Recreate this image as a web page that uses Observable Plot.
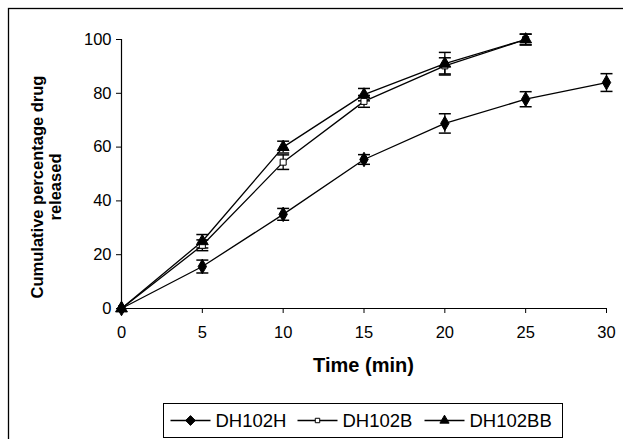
<!DOCTYPE html>
<html>
<head>
<meta charset="utf-8">
<script src="https://cdn.jsdelivr.net/npm/d3@7"></script>
<script src="https://cdn.jsdelivr.net/npm/@observablehq/plot@0.6"></script>
<style>
  html, body { margin: 0; padding: 0; background: #fff; }
  svg { font-family: "Liberation Sans", Arial, sans-serif; }
</style>
</head>
<body>
<div id="chart"></div>
<script>
// Dissolution time points (min)
const times = [0, 5, 10, 15, 20, 25, 30];

// Cumulative percentage drug released, mean and SD per formulation
const seriesNames = ["DH102H", "DH102B", "DH102BB"];
const dh102h = [0, 15.6, 35.0, 55.4, 68.8, 77.8, 84.0];
const dh102hSd = [0, 2.4, 2.2, 1.8, 3.6, 2.8, 3.3];
const dh102b = [0, 23.5, 54.4, 77.0, 90.2, 100.0];
const dh102bSd = [0, 2.0, 2.7, 2.2, 3.0, 2.0];
const dh102bb = [0, 25.0, 60.0, 79.5, 91.0, 100.0];
const dh102bbSd = [0, 2.5, 2.2, 2.3, 4.2, 2.0];

const xTicks = [0, 5, 10, 15, 20, 25, 30];
const yTicks = [0, 20, 40, 60, 80, 100];

const xTitle = "Time (min)";
const yTitle = ["Cumulative percentage drug", "released"];

const toRows = (name, vals, sds) =>
  vals.map((v, i) => ({series: name, t: times[i], v, sd: sds[i]}));

const rows = [
  ...toRows("DH102H", dh102h, dh102hSd),
  ...toRows("DH102B", dh102b, dh102bSd),
  ...toRows("DH102BB", dh102bb, dh102bbSd)
];

// horizontal cap for the error bars
const cap = {draw(ctx) { ctx.moveTo(-6, 0); ctx.lineTo(6, 0); }};

const style = {
  DH102H: {symbol: "diamond", fill: "black", r: 4.4},
  DH102B: {symbol: "square", fill: "white", r: 3.4},
  DH102BB: {symbol: "triangle", fill: "black", r: 4.4}
};

const plot = Plot.plot({
  width: 623,
  height: 439,
  marginLeft: 121,
  marginRight: 17,
  marginTop: 39,
  marginBottom: 131,
  x: {domain: [0, 30]},
  y: {domain: [0, 100]},
  marks: [
    Plot.axisY({ticks: yTicks, tickSize: 5, tickPadding: 5, label: null}),
    Plot.axisX({ticks: xTicks, tickSize: 5, tickPadding: 13, label: null}),
    Plot.ruleX([0], {stroke: "black", strokeWidth: 1.2}),
    Plot.ruleY([0], {stroke: "black", strokeWidth: 1.2}),
    // error bars
    Plot.ruleX(rows.filter(d => d.sd > 0), {x: "t", y1: d => d.v - d.sd, y2: d => d.v + d.sd, stroke: "black", strokeWidth: 1.3}),
    Plot.dot(rows.filter(d => d.sd > 0), {x: "t", y: d => d.v + d.sd, symbol: cap, stroke: "black", strokeWidth: 1.5, r: 4}),
    Plot.dot(rows.filter(d => d.sd > 0), {x: "t", y: d => d.v - d.sd, symbol: cap, stroke: "black", strokeWidth: 1.5, r: 4}),
    // series lines
    ...seriesNames.map(name =>
      Plot.line(rows.filter(d => d.series === name), {x: "t", y: "v", stroke: "black", strokeWidth: 1.3})
    ),
    // markers
    ...seriesNames.map(name =>
      Plot.dot(rows.filter(d => d.series === name), {
        x: "t", y: "v", symbol: style[name].symbol, r: style[name].r,
        fill: style[name].fill, stroke: "black", strokeWidth: 1
      })
    )
  ]
});

document.getElementById("chart").appendChild(plot);

const svg = d3.select(plot);

// tick label size and colour
svg.selectAll("[aria-label='x-axis tick label'] text, [aria-label='y-axis tick label'] text")
  .style("font-size", "16.5px").attr("fill", "black");
svg.selectAll("[aria-label='x-axis tick'], [aria-label='y-axis tick']")
  .attr("stroke", "black");

// outer frame
svg.insert("rect", ":first-child")
  .attr("x", 8.5).attr("y", 8.5).attr("width", 640).attr("height", 460)
  .attr("fill", "none").attr("stroke", "black").attr("stroke-width", 1.3);

// axis titles
svg.append("text")
  .attr("x", 363.5).attr("y", 372)
  .attr("text-anchor", "middle")
  .style("font-size", "20px").style("font-weight", "bold").attr("fill", "black")
  .text(xTitle);

const yt = svg.append("text")
  .attr("transform", "translate(37,187) rotate(-90)")
  .attr("text-anchor", "middle")
  .style("font-size", "16.5px").style("font-weight", "bold").attr("fill", "black");
yTitle.forEach((line, i) => {
  yt.append("tspan").attr("x", 0).attr("y", i * 18 + 6).text(line);
});

// legend
const lg = svg.append("g").attr("transform", "translate(163.5,403.5)");
lg.append("rect").attr("width", 399).attr("height", 34)
  .attr("fill", "white").attr("stroke", "black").attr("stroke-width", 1);
const itemX = [7, 134, 261];
seriesNames.forEach((name, i) => {
  const g = lg.append("g").attr("transform", `translate(${itemX[i]},17)`);
  g.append("line").attr("x1", 0).attr("x2", 40).attr("stroke", "black").attr("stroke-width", 1.3);
  const s = style[name];
  const sym = {diamond: d3.symbolDiamond2, square: d3.symbolSquare2, triangle: d3.symbolTriangle2}[s.symbol];
  g.append("path")
    .attr("transform", "translate(20,0)")
    .attr("d", d3.symbol(sym, Math.PI * s.r * s.r * (s.symbol === "square" ? 0.7 : 1.0))())
    .attr("fill", s.fill).attr("stroke", "black").attr("stroke-width", 1);
  g.append("text").attr("x", 45).attr("y", 6.5)
    .attr("text-anchor", "start")
    .style("font-size", "18.5px").attr("fill", "black").text(name);
});
</script>
</body>
</html>
